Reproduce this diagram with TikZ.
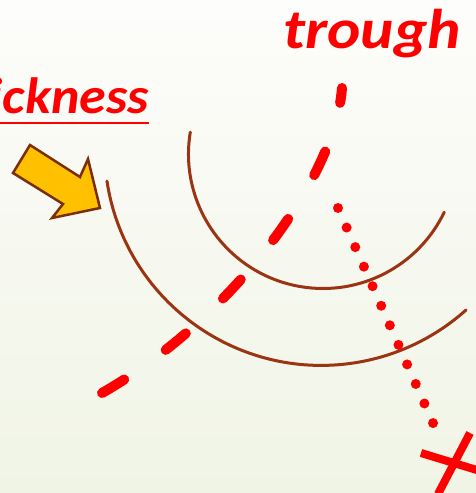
\documentclass[tikz,border=0pt]{standalone}
\usepackage{fontspec}
\setmainfont{Carlito}
\newfontfamily\lblfont[FakeStretch=1.13]{Carlito}
\newfontfamily\lblfontb[FakeStretch=1.06]{Carlito}
\definecolor{arcbrown}{HTML}{9A3412}
\definecolor{arrowfill}{HTML}{FFC000}
\definecolor{arrowdraw}{HTML}{7A2E08}
\definecolor{bgtop}{HTML}{FDFDFB}
\definecolor{bgbot}{HTML}{F0F4E5}
\tikzset{
  lbl/.style={text=red, font=\lblfont\fontsize{56}{60}\selectfont\bfseries\itshape, inner sep=0pt},
  lblsmall/.style={lbl, font=\lblfontb\fontsize{51}{55}\selectfont\bfseries\itshape},
  arcline/.style={draw=arcbrown, line width=3pt, line cap=round},
  redline/.style={draw=red, line width=10pt, line cap=round},
  dotmark/.style={fill=red, draw=none},
  xline/.style={draw=red, line width=8pt},
}
\begin{document}
\begin{tikzpicture}[x=1pt,y=-1pt]
\useasboundingbox (0,0) rectangle (476,493);
\shade[top color=bgtop, bottom color=bgbot] (0,0) rectangle (476,493);
\clip (0,0) rectangle (476,493);
% texts
\node[lblsmall, anchor=base east] (tk) at (149,113) {thickness};
\draw[red, line width=2.5pt] ([yshift=-10pt]tk.base west) -- ([yshift=-10pt]tk.base east);
\node[lbl, anchor=base west] (tr) at (283,48) {trough};
% arcs
\draw[arcline] (323,154) ++(189.4:134.5) arc[start angle=189.4, end angle=25.6, radius=134.5];
\draw[arcline] (321.3,148.6) ++(171.4:216.8) arc[start angle=171.4, end angle=48.1, radius=216.8];
% block arrow
\draw[fill=arrowfill, draw=arrowdraw, line width=2.5pt, line join=miter]
  (30,145) -- (80,177) -- (88,159) -- (100,208) -- (52,218) -- (63,204) -- (13,173) -- cycle;
% dashed curve
\draw[redline, dash pattern=on 26pt off 51pt] (102,393) .. controls (230,320) and (335,180) .. (342,88);
% dotted line
\foreach \i in {0,...,11} {
  \fill[dotmark] ({338+8.64*\i},{208+19.55*\i}) circle[radius=5];
}
% X mark
\draw[xline] (421,453) -- (490,474);
\draw[xline] (470,433) -- (438,494);
\end{tikzpicture}
\end{document}
